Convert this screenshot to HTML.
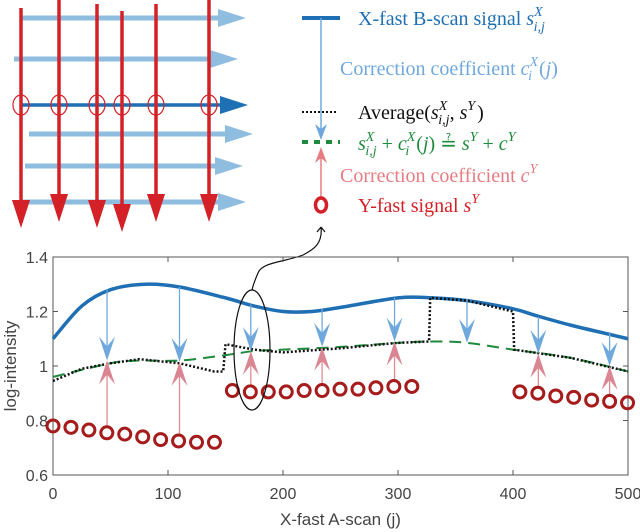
<!DOCTYPE html>
<html><head><meta charset="utf-8"><style>
html,body{margin:0;padding:0;background:#fff;width:640px;height:532px;overflow:hidden}
svg text{font-family:"Liberation Sans",sans-serif}
.lg{font-family:"Liberation Serif",serif;font-size:20px}
.it{font-style:italic}
</style></head><body>
<svg id="chart" width="640" height="532" xmlns="http://www.w3.org/2000/svg">
<g id="diagram"></g>
<g id="legend">
<line x1="302" y1="18" x2="340" y2="18" stroke="#1f6fb4" stroke-width="4"/>
<line x1="321" y1="18" x2="321" y2="138" stroke="#6fa8dc" stroke-width="1.5"/>
<path d="M315,124 L321,140 L327,124 L321,129 z" fill="#6fa8dc"/>
<text class="lg" x="358" y="25" fill="#1f6fb4">X-fast B-scan signal <tspan class="it">s</tspan><tspan class="it" font-size="14" dy="-9">X</tspan><tspan class="it" font-size="14" dx="-9" dy="15">i,j</tspan></text>
<text class="lg" x="340" y="75" fill="#6fa8dc">Correction coefficient <tspan class="it">c</tspan><tspan class="it" font-size="14" dy="-9">X</tspan><tspan class="it" font-size="14" dx="-10" dy="14">i</tspan><tspan dx="7" dy="-5">(</tspan><tspan class="it">j</tspan>)</text>
<line x1="302" y1="112" x2="338" y2="112" stroke="#111" stroke-width="2" stroke-dasharray="2,2"/>
<text class="lg" x="358" y="119" fill="#111">Average(<tspan class="it">s</tspan><tspan class="it" font-size="14" dy="-9">X</tspan><tspan class="it" font-size="14" dx="-9" dy="14">i,j</tspan><tspan dy="-5">, </tspan><tspan class="it">s</tspan><tspan class="it" font-size="14" dy="-9">Y</tspan><tspan dx="2" dy="9">)</tspan></text>
<line x1="302" y1="142" x2="340" y2="142" stroke="#1e8a3c" stroke-width="4" stroke-dasharray="6,6"/>
<text class="lg" x="358" y="150" fill="#1e8a3c"><tspan class="it">s</tspan><tspan class="it" font-size="14" dy="-9">X</tspan><tspan class="it" font-size="14" dx="-9" dy="14">i,j</tspan><tspan dy="-5"> + </tspan><tspan class="it">c</tspan><tspan class="it" font-size="14" dy="-9">X</tspan><tspan class="it" font-size="14" dx="-10" dy="14">i</tspan><tspan dx="7" dy="-5">(</tspan><tspan class="it">j</tspan>) ≟ <tspan class="it">s</tspan><tspan class="it" font-size="14" dy="-9">Y</tspan><tspan dy="9"> + </tspan><tspan class="it">c</tspan><tspan class="it" font-size="14" dy="-9">Y</tspan></text>
<line x1="321" y1="198" x2="321" y2="158" stroke="#e77c82" stroke-width="1.5"/>
<path d="M315,163 L321,147 L327,163 L321,158 z" fill="#e77c82"/>
<text class="lg" x="340" y="182" fill="#e77c82">Correction coefficient <tspan class="it">c</tspan><tspan class="it" font-size="14" dy="-9">Y</tspan></text>
<ellipse cx="321" cy="205" rx="5.5" ry="7" fill="none" stroke="#d42027" stroke-width="3.5"/>
<text class="lg" x="358" y="212" fill="#d42027">Y-fast signal <tspan class="it">s</tspan><tspan class="it" font-size="14" dy="-9">Y</tspan></text>
<path d="M321,227 L317,232 M321,227 L325,232 M321,227 C 323,245 312,250 303,255 C 285,262 262,262 258,273 C 255,280 253,285 252,290" fill="none" stroke="#111" stroke-width="1.2"/>
</g>
<g id="plot"></g>
</svg>
<script>
const NS="http://www.w3.org/2000/svg";
// ---- chart data ----
const xTicks=[0,100,200,300,400,500];
const yTicks=[0.6,0.8,1,1.2,1.4];
const yTickLabels=["0.6","0.8","1","1.2","1.4"];
const blueJ=[0,25,50,80,110,150,175,200,225,250,300,330,360,400,420,450,480,500];
const blueV=[1.10,1.22,1.28,1.30,1.29,1.25,1.22,1.20,1.20,1.215,1.25,1.25,1.24,1.21,1.185,1.15,1.12,1.10];
const greenJ=[0,50,75,110,150,175,200,250,300,330,360,400,450,500];
const greenV=[0.96,1.01,1.02,1.02,1.04,1.055,1.06,1.07,1.085,1.09,1.085,1.06,1.03,0.98];
const avgJ=[0,25,50,75,110,140,148,150,175,200,250,300,327,328,360,400,401,450,500];
const avgV=[0.945,0.99,1.01,1.025,1.01,0.98,0.98,1.08,1.06,1.05,1.065,1.085,1.09,1.25,1.24,1.20,1.06,1.03,0.98];
const circJ=[0,15.6,31.2,46.8,62.4,78,93.6,109.2,124.8,140.4,156,171.6,187.2,202.8,218.4,234,249.6,265.2,280.8,296.4,312,406,421.6,437.2,452.8,468.4,484,499.6];
const circV=[0.78,0.775,0.765,0.755,0.75,0.74,0.73,0.725,0.72,0.72,0.91,0.905,0.905,0.905,0.91,0.91,0.915,0.915,0.92,0.925,0.925,0.905,0.90,0.89,0.885,0.875,0.87,0.865];
const arrJ=[47,110,172,234,297,360,422,484];
const arrTop=[1.28,1.29,1.225,1.21,1.25,1.245,1.18,1.125];
const arrMid=[1.02,1.015,1.055,1.07,1.09,1.085,1.045,1.0];
const arrBot=[0.755,0.725,0.905,0.91,0.925,null,0.90,0.87];
// ---- axes ----
const X0=53,X1=628,Y0=475,Y1=257;
const sx=j=>X0+(j-0)/500*(X1-X0);
const sy=v=>Y0-(v-0.6)/0.8*(Y0-Y1);
const plot=document.getElementById('plot');
function mk(tag,attrs,parent){const e=document.createElementNS(NS,tag);for(const k in attrs)e.setAttribute(k,attrs[k]);(parent||plot).appendChild(e);return e;}
let r=mk('rect',{x:X0,y:Y1,width:X1-X0,height:Y0-Y1,fill:'none',stroke:'#555','stroke-width':1});


xTicks.forEach((t,i)=>{
  mk('line',{x1:sx(t),x2:sx(t),y1:Y0,y2:Y0-5,stroke:'#555'});
  mk('line',{x1:sx(t),x2:sx(t),y1:Y1,y2:Y1+5,stroke:'#555'});
  const tx=mk('text',{x:sx(t),y:499,'text-anchor':'middle','font-size':16,fill:'#444'});
  tx.textContent=t;
  
  
});
yTicks.forEach((t,i)=>{
  mk('line',{x1:X0,x2:X0+5,y1:sy(t),y2:sy(t),stroke:'#555'});
  mk('line',{x1:X1,x2:X1-5,y1:sy(t),y2:sy(t),stroke:'#555'});
  const tx=mk('text',{x:X0-5,y:sy(t)+6,'text-anchor':'end','font-size':16,fill:'#444'});
  tx.textContent=yTickLabels[i];
  
  
});
let xt=mk('text',{x:(X0+X1)/2,y:525,'text-anchor':'middle','font-size':17,fill:'#444'});
xt.textContent='X-fast A-scan (j)';


let yt=mk('text',{x:0,y:0,'text-anchor':'middle','font-size':17,fill:'#444',transform:`translate(16,${(Y0+Y1)/2}) rotate(-90)`});
yt.textContent='log-intensity';


function smoothPath(J,V){
  const p=J.map((j,i)=>[sx(j),sy(V[i])]);let d=`M${p[0][0]},${p[0][1]}`;
  for(let i=0;i<p.length-1;i++){const p0=p[Math.max(0,i-1)],p1=p[i],p2=p[i+1],p3=p[Math.min(p.length-1,i+2)];
    d+=` C${p1[0]+(p2[0]-p0[0])/6},${p1[1]+(p2[1]-p0[1])/6} ${p2[0]-(p3[0]-p1[0])/6},${p2[1]-(p3[1]-p1[1])/6} ${p2[0]},${p2[1]}`;}
  return d;}
function linePath(J,V){return J.map((j,i)=>(i?'L':'M')+sx(j)+','+sy(V[i])).join(' ');}
let b=mk('path',{d:smoothPath(blueJ,blueV),fill:'none',stroke:'#1f6fb4','stroke-width':3.5});


let g=mk('path',{d:smoothPath(greenJ,greenV),fill:'none',stroke:'#1e8a3c','stroke-width':2,'stroke-dasharray':'12,7'});


let a=mk('path',{d:linePath(avgJ,avgV),fill:'none',stroke:'#111','stroke-width':2.5,'stroke-dasharray':'2,2'});


arrJ.forEach((j,i)=>{
  const x=sx(j),yt=sy(arrTop[i]),ym=sy(arrMid[i]);
  const l=mk('line',{x1:x,y1:yt,x2:x,y2:ym-8,stroke:'#6fa8dc','stroke-width':1.3});
  
  
  mk('path',{d:`M${x-8},${ym-24} L${x},${ym} L${x+8},${ym-24} L${x},${ym-14} z`,fill:'#6fa8dc'});
  if(arrBot[i]!==null){
    const yb=sy(arrBot[i]);
    const l2=mk('line',{x1:x,y1:yb-7,x2:x,y2:ym+8,stroke:'#e08a95','stroke-width':1.3});
    
    
    mk('path',{d:`M${x-8},${ym+24} L${x},${ym} L${x+8},${ym+24} L${x},${ym+14} z`,fill:'#d98592'});
  }
});
circJ.forEach((j,i)=>{
  const c=mk('ellipse',{cx:sx(j),cy:sy(circV[i]),rx:6,ry:6,fill:'none',stroke:'#a61c1c','stroke-width':3});
  
  
});
let el=mk('ellipse',{cx:252,cy:350,rx:18,ry:60,fill:'none',stroke:'#111','stroke-width':1.2});


// ---- diagram ----
const dg=document.getElementById('diagram');
const hY=[18,59,105,134,166,202], hX0=[22,14,22,29,25,22], hX1=[218,210,220,225,215,218];
hY.forEach((y,i)=>{
  const dark=i==2,col=dark?'#1f6fb4':'#8fbde0';
  const l=mk('line',{x1:hX0[i],y1:y,x2:hX1[i],y2:y,stroke:col,'stroke-width':dark?3.5:5},dg);
  
  
  mk('path',{d:`M${hX1[i]},${y-9} L${hX1[i]+28},${y} L${hX1[i]},${y+9} z`,fill:col},dg);
});
const vX=[21,59,97,122,156,209], vY0=[8,0,4,11,4,0], vY1=[228,222,228,232,222,222];
vX.forEach((x,i)=>{
  const l=mk('line',{x1:x,y1:vY0[i],x2:x,y2:vY1[i]-20,stroke:'#d42027','stroke-width':3.5},dg);
  
  
  mk('path',{d:`M${x-9},${vY1[i]-28} L${x},${vY1[i]} L${x+9},${vY1[i]-28} z`,fill:'#d42027'},dg);
  mk('ellipse',{cx:x,cy:105,rx:8,ry:10,fill:'none',stroke:'#d42027','stroke-width':1.2},dg);
});
</script>
</body></html>
